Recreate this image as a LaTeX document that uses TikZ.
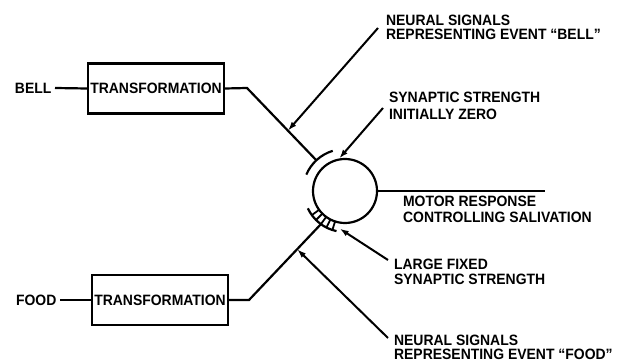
\documentclass[tikz,border=0pt]{standalone}
\usepackage{fontspec}
\setmainfont{Liberation Sans}[FakeStretch=0.93]
\usetikzlibrary{arrows.meta,calc}
\begin{document}
\begin{tikzpicture}[x=1pt,y=-1pt,line width=2.2pt,
  lbl/.style={anchor=base west,inner sep=0,font=\fontsize{15}{15}\selectfont\bfseries},
  tbox/.style={draw,minimum width=136pt,minimum height=50pt,inner sep=0,font=\fontsize{15}{15}\selectfont\bfseries},
  ptr/.style={line width=2pt,-{Latex[length=9pt,width=6pt]}},
  wire/.style={line width=2.2pt}]
\useasboundingbox (0,0) rectangle (635,363);

% boxes and inputs
\node[tbox] (tb) at (156,88.5) {TRANSFORMATION};
\node[tbox] (tf) at (160,300) {TRANSFORMATION};
\node[lbl,anchor=east,inner xsep=2.5pt] (bell) at (55,88) {BELL};
\node[lbl,anchor=east,inner xsep=2.5pt] (food) at (60,300) {FOOD};

% neuron
\node[draw,circle,minimum size=64pt,inner sep=0] (n) at (345,191) {};

\coordinate (bk) at (247,88);
\coordinate (bs) at ($(n.center)+(-133:42)$);
\coordinate (fk) at (249,300);
\coordinate (fs) at ($(n.center)+(-234:41)$);
\coordinate (out) at (545,191);

\draw[wire] (bell.east) -- (tb.west);
\draw[wire] (food.east) -- (tf.west);
\draw[wire] (tb.east) -- (bk) -- (bs);
\draw[wire] (tf.east) -- (fk) -- (fs);
\draw[wire] (n.east) -- (out);

% synapses
\draw[wire] ($(n.center)+(-157:42)$) arc[start angle=-157,end angle=-107,radius=42];
\draw[wire] ($(n.center)+(-205:41)$) arc[start angle=-205,end angle=-258,radius=41];
\foreach \a in {-216,-225,-234,-243,-252}
  \draw[line width=1.8pt] ($(n.center)+(\a:32)$) -- ($(n.center)+(\a:41)$);

% labels
\node[lbl] (t1) at (385,26) {NEURAL SIGNALS};
\node[lbl] (t2) at (385,40) {REPRESENTING EVENT “BELL”};
\node[lbl] (t3) at (388,103) {SYNAPTIC STRENGTH};
\node[lbl] (t4) at (388,120) {INITIALLY ZERO};
\node[lbl] (t5) at (402,207) {MOTOR RESPONSE};
\node[lbl] (t6) at (402,223) {CONTROLLING SALIVATION};
\node[lbl] (t7) at (393,270) {LARGE FIXED};
\node[lbl] (t8) at (393,285) {SYNAPTIC STRENGTH};
\node[lbl] (t9) at (393,346) {NEURAL SIGNALS};
\node[lbl] (t10) at (393,360) {REPRESENTING EVENT “FOOD”};

% pointers
\path (bk) -- (bs) coordinate[pos=0.59] (bp);
\path (fk) -- (fs) coordinate[pos=0.67] (fp);
\coordinate (bq) at (378,28);
\coordinate (zq) at (383,108);
\coordinate (lq) at (388,260);
\coordinate (fq) at (388,338);
\coordinate (lt) at ($(n.center)+(-262:38)$);
\draw[ptr] (bq) -- (bp);
\draw[ptr] (zq) -- (n.100);
\draw[ptr] (lq) -- (lt);
\draw[ptr] (fq) -- (fp);
\end{tikzpicture}
\end{document}
